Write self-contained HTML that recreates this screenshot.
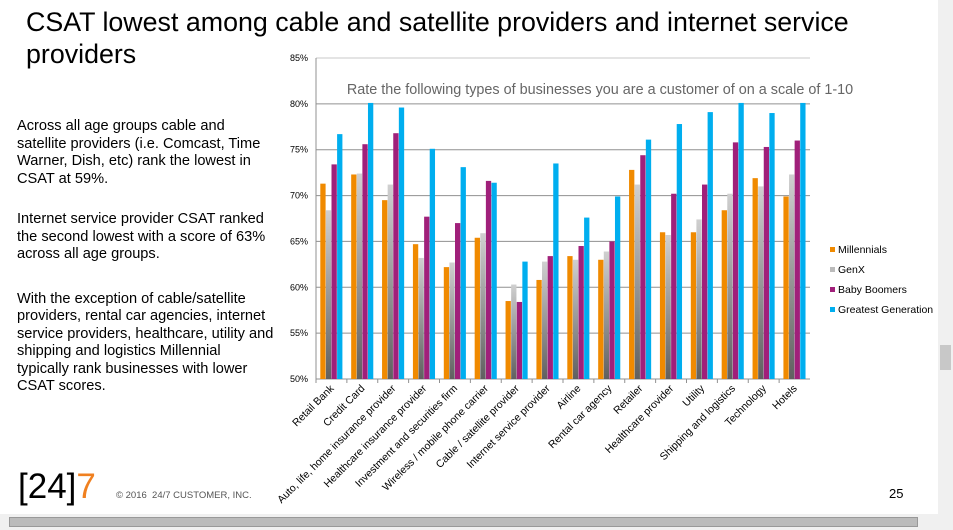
<!DOCTYPE html>
<html><head><meta charset="utf-8"><style>
body{margin:0;width:953px;height:530px;overflow:hidden;background:#fff;font-family:"Liberation Sans",sans-serif;position:relative}
.abs{position:absolute}
</style></head><body>
<div class="abs" style="left:0;top:0;width:938px;height:514px;background:#fff"></div>
<div class="abs" style="left:938px;top:0;width:15px;height:530px;background:#f0f0f0"></div>
<div class="abs" style="left:940px;top:345px;width:11px;height:25px;background:#c8c8c8"></div>
<div class="abs" style="left:0;top:514px;width:938px;height:16px;background:#f0f0f0"></div>
<div class="abs" style="left:9px;top:517px;width:909px;height:10px;background:#bbb;border:1px solid #999;box-sizing:border-box"></div>
<div class="abs" style="left:26px;top:6px;font-size:26.8px;line-height:32px;color:#000;width:900px">CSAT lowest among cable and satellite providers and internet service providers</div>
<div class="abs" style="left:17px;top:118px;width:258px;font-size:14.6px;line-height:17.5px;color:#000">
<p style="margin:0 0 23px">Across all age groups cable and satellite providers (i.e. Comcast, Time Warner, Dish, etc) rank the lowest in CSAT at 59%.</p>
<p style="margin:0 0 27px">Internet service provider CSAT ranked the second lowest with a score of 63% across all age groups.</p>
<p style="margin:0">With the exception of cable/satellite providers, rental car agencies, internet service providers, healthcare, utility and shipping and logistics Millennial typically rank businesses with lower CSAT scores.</p></div>
<div class="abs" style="left:18px;top:467px;font-size:35px;letter-spacing:0px">[24]<span style="color:#f08020">7</span></div>
<div class="abs" style="left:116px;top:490px;font-size:9.5px;color:#555">© 2016 &nbsp;24/7 CUSTOMER, INC.</div>
<div class="abs" style="left:889px;top:486px;font-size:13px">25</div>
<svg class="abs" style="left:0;top:0" width="953" height="514" id="chart"></svg>
<script>
const categories=["Retail Bank","Credit Card","Auto, life, home insurance provider","Healthcare insurance provider","Investment and securities firm","Wireless / mobile phone carrier","Cable / satellite provider","Internet service provider","Airline","Rental car agency","Retailer","Healthcare provider","Utility","Shipping and logistics","Technology","Hotels"];
const seriesNames=["Millennials","GenX","Baby Boomers","Greatest Generation"];
const millennials=[71.3,72.3,69.5,64.7,62.2,65.4,58.5,60.8,63.4,63.0,72.8,66.0,66.0,68.4,71.9,69.9];
const genx=[68.4,72.4,71.2,63.2,62.7,65.9,60.3,62.8,63.0,63.9,71.2,65.7,67.4,70.2,71.0,72.3];
const boomers=[73.4,75.6,76.8,67.7,67.0,71.6,58.4,63.4,64.5,65.0,74.4,70.2,71.2,75.8,75.3,76.0];
const greatest=[76.7,80.1,79.6,75.1,73.1,71.4,62.8,73.5,67.6,69.9,76.1,77.8,79.1,80.1,79.0,80.1];
const yTicks=[50,55,60,65,70,75,80,85];
const series=[millennials,genx,boomers,greatest];
const colors=["#f08a00","url(#gg)","#a0207a","#00aeef"];
const legendColors=["#f08a00","#bbb","#a0207a","#00aeef"];
const ns="http://www.w3.org/2000/svg",svg=document.getElementById('chart');
const L=316,R=810,T=58,B=379;
const y=v=>B-(v-50)/35*(B-T);
const gw=(R-L)/categories.length;
const x=i=>L+i*gw;
function mk(t,a){const e=document.createElementNS(ns,t);for(const k in a)e.setAttribute(k,a[k]);svg.appendChild(e);return e;}
svg.innerHTML='<defs><linearGradient id="gg" x1="0" y1="0" x2="0" y2="1"><stop offset="0" stop-color="#d0d0d0"/><stop offset="1" stop-color="#606060"/></linearGradient></defs>';
yTicks.forEach(t=>{
 const l=mk('line',{x1:L,x2:R,y1:y(t),y2:y(t),stroke:t==85?'#c8c8c8':'#909090','stroke-width':1});
 
 
 const tx=mk('text',{x:L-8,y:y(t)+3,'font-size':9,'text-anchor':'end',fill:'#000'});
 tx.textContent=t+'%';
 
 
});
mk('line',{x1:L,x2:L,y1:T,y2:B,stroke:'#909090'});
mk('line',{x1:L,x2:R,y1:B,y2:B,stroke:'#909090'});
const st=mk('text',{x:600,y:94,'font-size':14.4,'text-anchor':'middle',fill:'#666'});
st.textContent='Rate the following types of businesses you are a customer of on a scale of 1-10';


const bw=5.6;
categories.forEach((c,i)=>{
 mk('line',{x1:x(i),x2:x(i),y1:B,y2:B+4,stroke:'#909090'});
 series.forEach((s,j)=>{
  const r=mk('rect',{x:x(i)+4.3+j*bw,y:y(s[i]),width:bw-0.3,height:B-y(s[i]),fill:colors[j]});
  
  
 });
 const cx=x(i)+gw/2+3;
 const t=mk('text',{x:cx,y:B+10,'font-size':10.5,'text-anchor':'end',fill:'#000',transform:`rotate(-45 ${cx} ${B+10})`});
 t.textContent=c;
 
 
});
seriesNames.forEach((n,j)=>{
 const ly=252+j*20;
 const r=mk('rect',{x:830,y:ly-5,width:5,height:5,fill:legendColors[j]});
 
 
 const t=mk('text',{x:838,y:ly+1,'font-size':10.5,fill:'#000'});
 t.textContent=n;
 
 
});
</script>
</body></html>
